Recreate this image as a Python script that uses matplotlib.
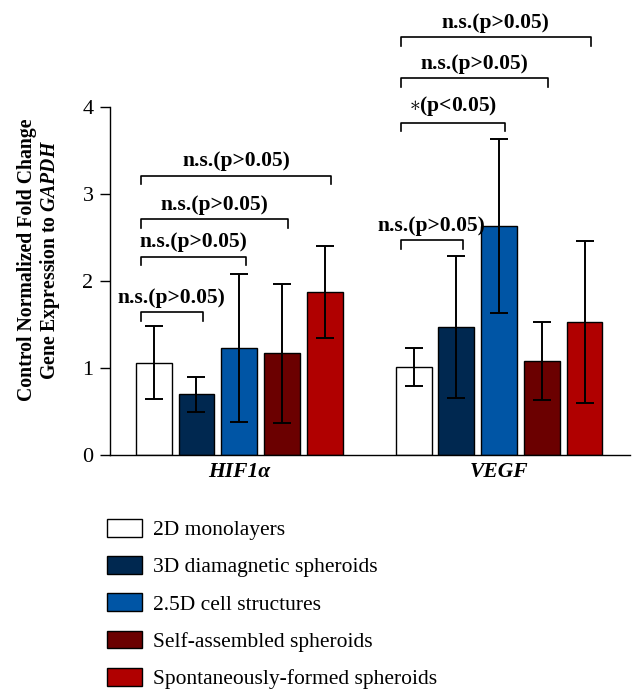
import numpy as np
import matplotlib.pyplot as plt
from matplotlib.patches import Patch

plt.rcParams['font.family'] = ['Liberation Serif', 'DejaVu Serif']
plt.rcParams['mathtext.fontset'] = 'custom'
plt.rcParams['mathtext.rm'] = 'Liberation Serif'
plt.rcParams['mathtext.it'] = 'Liberation Serif:italic'
plt.rcParams['mathtext.bf'] = 'Liberation Serif:bold'
plt.rcParams['mathtext.bfit'] = 'Liberation Serif:italic:bold'

# data
genes = ['HIF1α', 'VEGF']
groups = ['2D monolayers', '3D diamagnetic spheroids', '2.5D cell structures',
          'Self-assembled spheroids', 'Spontaneously-formed spheroids']
colors = ['#ffffff', '#002850', '#0055a5', '#6b0000', '#b00000']
means_hif = [1.06, 0.70, 1.23, 1.17, 1.87]
err_hif = [0.42, 0.20, 0.85, 0.80, 0.53]
means_vegf = [1.01, 1.47, 2.63, 1.08, 1.53]
err_vegf = [0.22, 0.82, 1.00, 0.45, 0.93]

# brackets: (gene index, bar from, bar to, height, label)
brackets = [
    (0, 0, 1, 1.64, 'n.s.(p>0.05)'),
    (0, 0, 2, 2.28, 'n.s.(p>0.05)'),
    (0, 0, 3, 2.71, 'n.s.(p>0.05)'),
    (0, 0, 4, 3.21, 'n.s.(p>0.05)'),
    (1, 0, 1, 2.47, 'n.s.(p>0.05)'),
    (1, 0, 2, 3.82, '$\\ast$(p<0.05)'),
    (1, 0, 3, 4.33, 'n.s.(p>0.05)'),
    (1, 0, 4, 4.80, 'n.s.(p>0.05)'),
]

fig = plt.figure(figsize=(6.44, 6.99), dpi=100)
ax = fig.add_axes([0.171, 0.349, 0.807, 0.498])

centers = [3.02, 9.1]
w = 0.84
offs = np.arange(-2, 3)
for gi, (m, e) in enumerate([(means_hif, err_hif), (means_vegf, err_vegf)]):
    for k in range(5):
        x = centers[gi] + offs[k]
        ax.bar(x, m[k], width=w, color=colors[k], edgecolor='black', linewidth=1.0, zorder=2)
        ax.errorbar(x, m[k], yerr=e[k], color='black', capsize=6.5, elinewidth=1.4,
                    capthick=1.4, zorder=3)

leg = 0.1
for gi, a, b, h, lab in brackets:
    x1 = centers[gi] + offs[a] - 0.3
    x2 = centers[gi] + offs[b] + 0.15
    ax.plot([x1, x1, x2, x2], [h - leg, h, h, h - leg], color='black', lw=1.2,
            clip_on=False)
    ax.text((x1 + x2) / 2, h + 0.05, lab, ha='center', va='bottom',
            fontsize=15.5, fontweight='bold', clip_on=False)

ax.set_xlim(0, 12.16)
ax.set_ylim(0, 4)
ax.set_yticks([0, 1, 2, 3, 4])
ax.set_xticks(centers)
ax.set_xticklabels(genes, fontsize=15.5, fontweight='bold', fontstyle='italic')
ax.tick_params(axis='x', length=0, pad=5)
ax.tick_params(axis='y', length=7, width=1.0, labelsize=16, pad=5)
for s in ['top', 'right']:
    ax.spines[s].set_visible(False)
ax.spines['left'].set_linewidth(1.0)
ax.spines['bottom'].set_linewidth(1.0)
ax.set_ylabel('Control Normalized Fold Change\nGene Expression to $\\mathbfit{GAPDH}$',
              fontsize=14.2, fontweight='bold', linespacing=1.05)
ax.yaxis.set_label_coords(-0.092, 0.56)

handles = [Patch(facecolor=c, edgecolor='black', linewidth=1.0) for c in colors]
fig.legend(handles, groups, loc='upper left', bbox_to_anchor=(0.166, 0.258),
           frameon=False, fontsize=15.5, handlelength=1.65, handleheight=0.9,
           handletextpad=0.5, labelspacing=0.74, borderpad=0, borderaxespad=0)

fig.savefig('out.png', dpi=100)
